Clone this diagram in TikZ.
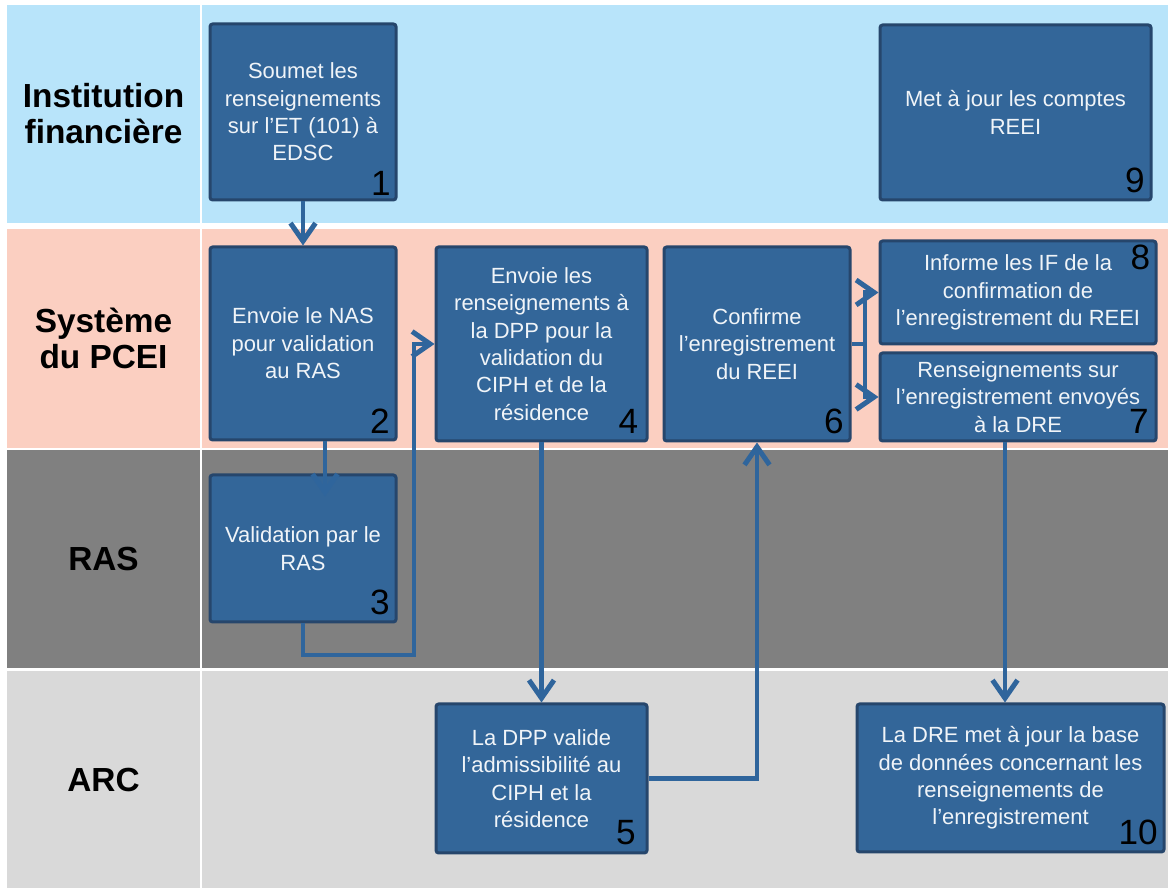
\documentclass[tikz,border=0pt]{standalone}
\usepackage{fontspec}
\setmainfont{Liberation Sans}
\usepackage{tikz}
\usetikzlibrary{arrows.meta,positioning,calc}
\definecolor{laneblue}{RGB}{184,228,250}
\definecolor{lanepink}{RGB}{251,207,193}
\definecolor{lanedark}{RGB}{128,128,128}
\definecolor{lanelight}{RGB}{217,217,217}
\definecolor{taskfill}{RGB}{51,102,153}
\definecolor{taskedge}{RGB}{38,70,108}
\definecolor{tasktext}{RGB}{240,244,248}
\definecolor{flowblue}{RGB}{47,101,156}

\begin{document}
\begin{tikzpicture}[
task/.style={draw=taskedge, fill=taskfill, line width=0.06cm, rounded corners=1.5pt,
align=center, text=tasktext, font=\fontsize{12.5}{15.6}\selectfont, inner sep=2pt},
num/.style={anchor=base east, inner sep=0pt, font=\fontsize{20}{20}\selectfont, text=black},
lbl/.style={font=\bfseries\fontsize{19}{20.5}\selectfont, align=center},
flow/.style={-{Straight Barb[length=0.36cm,width=0.5cm,line width=0.1cm]},
line width=0.09cm, draw=flowblue}
]
\useasboundingbox (0,0) rectangle (23.36,17.76);

% swimlanes
\fill[laneblue] (0.14,13.30) rectangle (23.36,17.66);
\fill[lanepink] (0.14,8.80) rectangle (23.36,13.18);
\fill[lanedark] (0.14,4.40) rectangle (23.36,8.76);
\fill[lanelight] (0.14,0) rectangle (23.36,4.34);
\draw[white, line width=0.03cm] (4.02,0) -- (4.02,17.66);

\node[lbl] (l1) at (2.07,15.48) {Institution\\financière};
\node[lbl] (l2) at (2.07,10.99) {Système\\du PCEI};
\node[lbl] (l3) at (2.07,6.58) {RAS};
\node[lbl] (l4) at (2.07,2.15) {ARC};

% tasks
\node[task, minimum width=3.72cm, minimum height=3.52cm] (t1) at (6.06,15.52)
{Soumet les\\renseignements\\sur l’ET (101) à\\EDSC};
\node[task, minimum width=3.72cm, minimum height=3.86cm] (t2) at (6.06,10.89)
{Envoie le NAS\\pour validation\\au RAS};
\node[task, minimum width=3.72cm, minimum height=2.94cm] (t3) at (6.06,6.79)
{Validation par le\\RAS};
\node[task, minimum width=4.22cm, minimum height=3.88cm] (t4) at (10.83,10.88)
{Envoie les\\renseignements à\\la DPP pour la\\validation du\\CIPH et de la\\résidence};
\node[task, minimum width=4.22cm, minimum height=2.98cm] (t5) at (10.83,2.19)
{La DPP valide\\l’admissibilité au\\CIPH et la\\résidence};
\node[task, minimum width=3.72cm, minimum height=3.88cm] (t6) at (15.14,10.88)
{Confirme\\l’enregistrement\\du REEI};
\node[task, minimum width=5.52cm, minimum height=1.76cm] (t7) at (20.36,9.82)
{Renseignements sur\\l’enregistrement envoyés\\à la DRE};
\node[task, minimum width=5.52cm, minimum height=2.06cm] (t8) at (20.36,11.91)
{Informe les IF de la\\confirmation de\\l’enregistrement du REEI};
\node[task, minimum width=5.42cm, minimum height=3.50cm] (t9) at (20.31,15.51)
{Met à jour les comptes\\REEI};
\node[task, minimum width=6.14cm, minimum height=2.96cm] (t10) at (20.21,2.20)
{La DRE met à jour la base\\de données concernant les\\renseignements de\\l’enregistrement};

\node[num] (n1) at ([xshift=-0.13cm,yshift=0.12cm]t1.south east) {1};
\node[num] (n2) at ([xshift=-0.15cm,yshift=0.15cm]t2.south east) {2};
\node[num] (n3) at ([xshift=-0.15cm,yshift=0.17cm]t3.south east) {3};
\node[num] (n4) at ([xshift=-0.2cm,yshift=0.17cm]t4.south east) {4};
\node[num] (n5) at ([xshift=-0.25cm,yshift=0.19cm]t5.south east) {5};
\node[num] (n6) at ([xshift=-0.15cm,yshift=0.17cm]t6.south east) {6};
\node[num] (n7) at ([xshift=-0.17cm,yshift=0.17cm]t7.south east) {7};
\node[num] (n8) at ([xshift=-0.14cm,yshift=-0.6cm]t8.north east) {8};
\node[num] (n9) at ([xshift=-0.15cm,yshift=0.17cm]t9.south east) {9};
\node[num] (n10) at ([xshift=-0.15cm,yshift=0.17cm]t10.south east) {10};

% connectors
\coordinate (b34) at (8.28,4.66);
\coordinate (split) at (17.30,10.88);

\draw[flow] (t1) -- (t2);
\draw[flow] ([xshift=0.44cm]t2.south) -- ([xshift=0.44cm,yshift=-0.46cm]t3.north);
\draw[flow] (t3.south) |- (b34) |- (t4.west);
\draw[flow] (t4) -- (t5);
\draw[flow] (t5.east) -| (t6.south);
\draw[flow] (t6.east) -- (split) |- (t8.west);
\draw[flow] (split) |- (t7.west);
\draw[flow] ([xshift=-0.26cm]t7.south) -- ([xshift=-0.26cm]t7.south |- t10.north);

\end{tikzpicture}
\end{document}
